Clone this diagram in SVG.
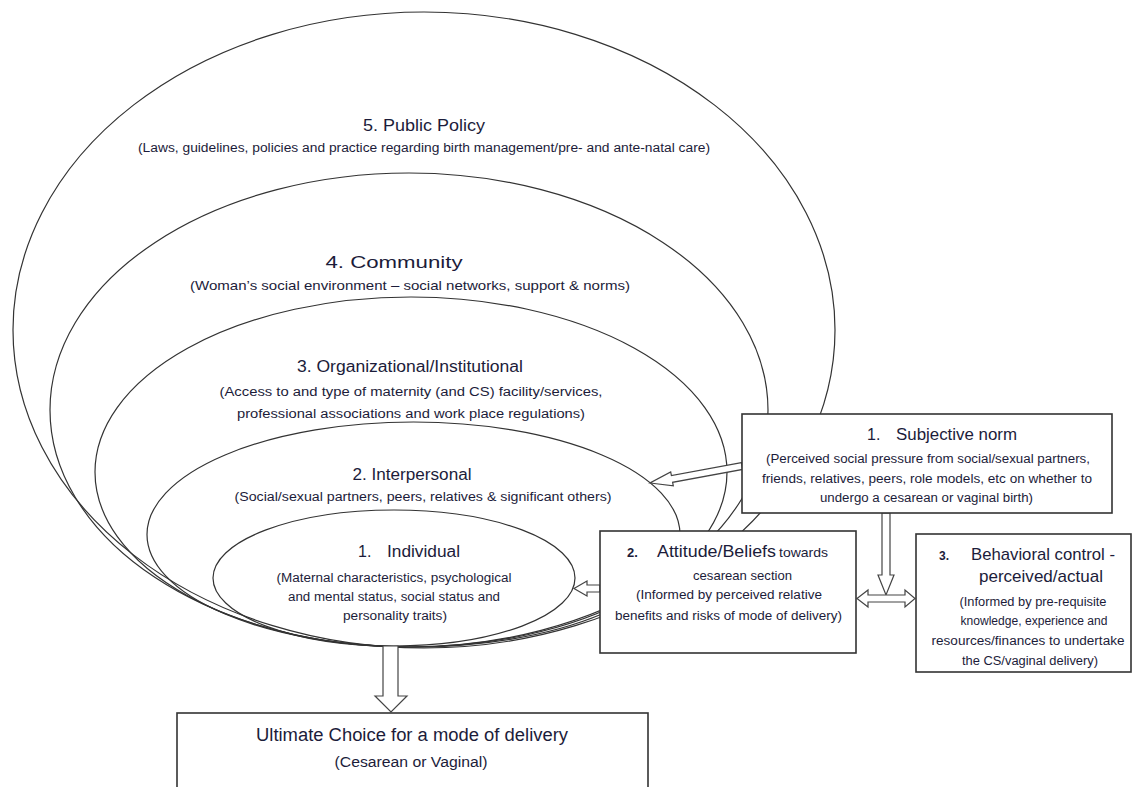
<svg xmlns="http://www.w3.org/2000/svg" width="1133" height="787" viewBox="0 0 1133 787">
<style>
  text { font-family: "Liberation Sans", Arial, sans-serif; fill: #1c1c3a; }
  .t { font-size: 16px; text-anchor: middle; }
  .s { font-size: 12px; text-anchor: middle; }
  .ring { fill: none; stroke: #333; stroke-width: 1.2; }
  .box { fill: #fff; stroke: #333; stroke-width: 1.6; }
  .arr { fill: #fff; stroke: #444; stroke-width: 1.2; stroke-linejoin: miter; }
</style>
<rect width="1133" height="787" fill="#fff"/>

<g id="public-policy">
  <ellipse class="ring" cx="424" cy="330" rx="411" ry="318"/>
  <text class="t" x="424" y="131" textLength="122" lengthAdjust="spacingAndGlyphs">5. Public Policy</text>
  <text class="s" x="424" y="152" textLength="572" lengthAdjust="spacingAndGlyphs">(Laws, guidelines, policies and practice regarding birth management/pre- and ante-natal care)</text>
</g>

<g id="community">
  <ellipse class="ring" cx="409" cy="410" rx="359" ry="237"/>
  <text class="t" x="394" y="268" textLength="137" lengthAdjust="spacingAndGlyphs">4. Community</text>
  <text class="s" x="410" y="290" style="font-size:13px" textLength="440" lengthAdjust="spacingAndGlyphs">(Woman’s social environment – social networks, support &amp; norms)</text>
</g>

<g id="organizational">
  <ellipse class="ring" cx="411" cy="472" rx="316" ry="175"/>
  <text class="t" x="410" y="372" textLength="226" lengthAdjust="spacingAndGlyphs">3. Organizational/Institutional</text>
  <text class="s" x="411" y="396" textLength="383" lengthAdjust="spacingAndGlyphs">(Access to and type of maternity (and CS) facility/services,</text>
  <text class="s" x="411" y="418" textLength="348" lengthAdjust="spacingAndGlyphs">professional associations and work place regulations)</text>
</g>

<g id="interpersonal">
  <ellipse class="ring" cx="413.5" cy="534.5" rx="266.5" ry="112.5"/>
  <text class="t" x="412" y="480" textLength="119" lengthAdjust="spacingAndGlyphs">2. Interpersonal</text>
  <text class="s" x="423" y="501" textLength="377" lengthAdjust="spacingAndGlyphs">(Social/sexual partners, peers, relatives &amp; significant others)</text>
</g>

<g id="individual">
  <ellipse class="ring" cx="394" cy="578" rx="181" ry="68"/>
  <text style="font-size:16px" x="358" y="557">1.</text>
  <text style="font-size:16px" x="387" y="557" textLength="73" lengthAdjust="spacingAndGlyphs">Individual</text>
  <text class="s" x="394" y="582" textLength="235" lengthAdjust="spacingAndGlyphs">(Maternal characteristics, psychological</text>
  <text class="s" x="394" y="601" textLength="212" lengthAdjust="spacingAndGlyphs">and mental status, social status and</text>
  <text class="s" x="395" y="620" textLength="104" lengthAdjust="spacingAndGlyphs">personality traits)</text>
</g>

<g id="connectors">
  <polygon class="arr" points="741.4,462.6 671.4,475.5 670.7,472.0 650,483 673.3,485.8 672.6,482.3 742.6,469.4"/>
  <polygon class="arr" points="600,585 587,585 587,581 574,588.5 587,596 587,592 600,592"/>
  <polygon class="arr" points="882,513 882,575 878,575 886,595 894,575 890,575 890,513"/>
  <polygon class="arr" points="857,598.5 868,590 868,595 905,595 905,590 915,598.5 905,607 905,602 868,602 868,607"/>
  <polygon class="arr" points="383,646 383,696 375,696 391,712 407,696 398,696 398,646"/>
</g>

<g id="subjective-norm">
  <rect class="box" x="742" y="414" width="370" height="99"/>
  <text style="font-size:16px" x="867" y="440">1.</text>
  <text style="font-size:16px" x="896" y="440" textLength="121" lengthAdjust="spacingAndGlyphs">Subjective norm</text>
  <text class="s" x="928" y="463" textLength="324" lengthAdjust="spacingAndGlyphs">(Perceived social pressure from social/sexual partners,</text>
  <text class="s" x="927" y="483" textLength="330" lengthAdjust="spacingAndGlyphs">friends, relatives, peers, role models, etc on whether to</text>
  <text class="s" x="926.5" y="502" textLength="213" lengthAdjust="spacingAndGlyphs">undergo a cesarean or vaginal birth)</text>
</g>

<g id="attitude-beliefs">
  <rect class="box" x="600" y="531" width="256" height="122"/>
  <text style="font-size:13px;font-weight:bold" x="627" y="557">2.</text>
  <text style="font-size:17px" x="657" y="557" textLength="119" lengthAdjust="spacingAndGlyphs">Attitude/Beliefs</text>
  <text style="font-size:13px" x="779" y="557" textLength="49" lengthAdjust="spacingAndGlyphs">towards</text>
  <text class="s" style="font-size:13px" x="742.5" y="580" textLength="99" lengthAdjust="spacingAndGlyphs">cesarean section</text>
  <text class="s" x="729" y="599" textLength="186" lengthAdjust="spacingAndGlyphs">(Informed by perceived relative</text>
  <text class="s" x="728.5" y="620" textLength="227" lengthAdjust="spacingAndGlyphs">benefits and risks of mode of delivery)</text>
</g>

<g id="behavioral-control">
  <rect class="box" x="916" y="534" width="215" height="138"/>
  <text style="font-size:12px;font-weight:bold" x="939" y="560">3.</text>
  <text style="font-size:17px" x="971" y="560" textLength="144" lengthAdjust="spacingAndGlyphs">Behavioral control -</text>
  <text class="t" style="font-size:17px" x="1041" y="582" textLength="124" lengthAdjust="spacingAndGlyphs">perceived/actual</text>
  <text class="s" x="1033" y="606" textLength="147" lengthAdjust="spacingAndGlyphs">(Informed by pre-requisite</text>
  <text class="s" x="1034" y="625" textLength="147" lengthAdjust="spacingAndGlyphs">knowledge, experience and</text>
  <text class="s" x="1028" y="645" textLength="193" lengthAdjust="spacingAndGlyphs">resources/finances to undertake</text>
  <text class="s" x="1030" y="665" textLength="136" lengthAdjust="spacingAndGlyphs">the CS/vaginal delivery)</text>
</g>

<g id="ultimate-choice">
  <rect class="box" x="177" y="713" width="471" height="90"/>
  <text class="t" style="font-size:18px" x="412" y="741" textLength="312" lengthAdjust="spacingAndGlyphs">Ultimate Choice for a mode of delivery</text>
  <text class="t" style="font-size:14px" x="411" y="767" textLength="153" lengthAdjust="spacingAndGlyphs">(Cesarean or Vaginal)</text>
</g>
</svg>
